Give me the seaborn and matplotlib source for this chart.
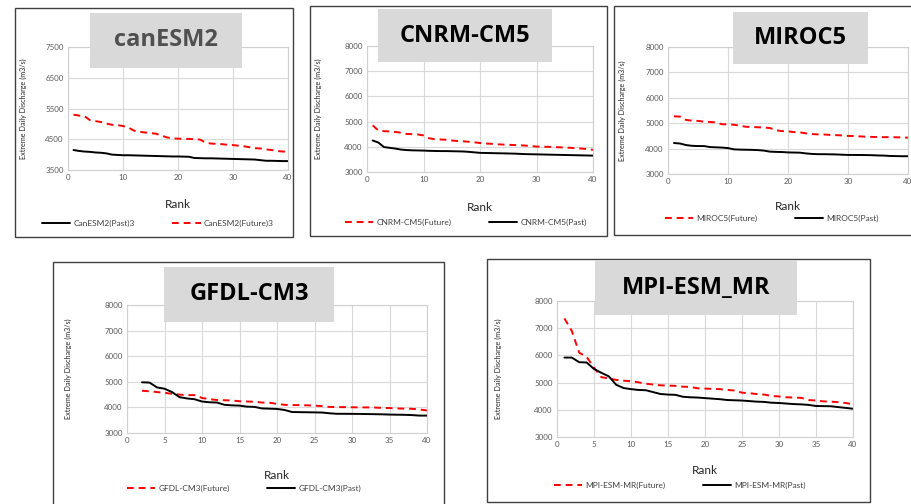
import numpy as np
import pandas as pd
import seaborn as sns
import matplotlib.pyplot as plt
from matplotlib.patches import Rectangle

# ---- data ----
rank = list(range(1, 41))
rank_gfdl = list(range(2, 41))

can_past = [4150, 4120, 4100, 4090, 4070, 4060, 4040, 4000, 3990, 3980,
            3980, 3975, 3970, 3965, 3960, 3955, 3950, 3945, 3940, 3940,
            3935, 3930, 3890, 3885, 3880, 3880, 3875, 3870, 3865, 3860,
            3855, 3850, 3845, 3840, 3820, 3800, 3800, 3795, 3790, 3790]
can_future = [5300, 5270, 5250, 5120, 5090, 5060, 5010, 4970, 4960, 4930,
              4880, 4780, 4740, 4720, 4700, 4680, 4620, 4560, 4530, 4520,
              4510, 4510, 4500, 4490, 4390, 4360, 4350, 4340, 4320, 4310,
              4290, 4270, 4240, 4210, 4200, 4170, 4150, 4120, 4100, 4100]

cnrm_future = [4850, 4650, 4620, 4610, 4590, 4560, 4510, 4500, 4490, 4450,
               4340, 4300, 4290, 4280, 4250, 4230, 4220, 4200, 4180, 4150,
               4130, 4120, 4100, 4090, 4080, 4070, 4060, 4050, 4030, 4010,
               4000, 4000, 3990, 3980, 3970, 3960, 3940, 3930, 3910, 3880]
cnrm_past = [4250, 4170, 3990, 3960, 3930, 3890, 3870, 3860, 3855, 3850,
             3840, 3835, 3830, 3830, 3825, 3820, 3815, 3800, 3780, 3760,
             3755, 3750, 3745, 3740, 3735, 3730, 3720, 3710, 3705, 3700,
             3695, 3690, 3685, 3680, 3675, 3670, 3665, 3660, 3655, 3650]

miroc_future = [5270, 5260, 5130, 5100, 5090, 5060, 5050, 5030, 4960, 4950,
                4940, 4900, 4860, 4850, 4840, 4830, 4810, 4720, 4690, 4680,
                4650, 4640, 4600, 4570, 4560, 4555, 4540, 4530, 4520, 4500,
                4495, 4480, 4470, 4460, 4455, 4450, 4450, 4445, 4440, 4430]
miroc_past = [4220, 4200, 4140, 4110, 4100, 4100, 4060, 4050, 4040, 4020,
              3970, 3960, 3955, 3950, 3940, 3920, 3880, 3870, 3865, 3850,
              3845, 3840, 3810, 3790, 3780, 3780, 3775, 3770, 3760, 3750,
              3750, 3748, 3745, 3740, 3730, 3725, 3710, 3705, 3700, 3700]

gfdl_future = [4650, 4630, 4600, 4570, 4530, 4500, 4480, 4480, 4370, 4320,
               4290, 4280, 4270, 4240, 4230, 4220, 4190, 4180, 4140, 4100,
               4090, 4090, 4080, 4070, 4050, 4020, 4010, 4010, 4005, 4000,
               4000, 3995, 3980, 3975, 3960, 3950, 3945, 3920, 3880]
gfdl_past = [4980, 4970, 4780, 4730, 4600, 4400, 4350, 4320, 4230, 4200,
             4190, 4100, 4080, 4070, 4030, 4020, 3960, 3950, 3940, 3900,
             3820, 3815, 3810, 3805, 3800, 3770, 3750, 3750, 3748, 3745,
             3740, 3735, 3730, 3720, 3715, 3710, 3700, 3680, 3680]

mpi_future = [7360, 6900, 6100, 5950, 5550, 5200, 5150, 5100, 5070, 5050,
              5010, 4960, 4930, 4900, 4890, 4880, 4850, 4840, 4790, 4780,
              4770, 4760, 4730, 4710, 4630, 4610, 4580, 4560, 4510, 4490,
              4460, 4450, 4440, 4360, 4340, 4310, 4300, 4280, 4250, 4200]
mpi_past = [5920, 5920, 5750, 5740, 5500, 5360, 5230, 4920, 4800, 4760,
            4730, 4720, 4650, 4580, 4560, 4550, 4480, 4460, 4450, 4430,
            4410, 4390, 4360, 4350, 4340, 4320, 4300, 4290, 4260, 4250,
            4230, 4210, 4200, 4180, 4140, 4135, 4130, 4100, 4070, 4040]

W, H = 911, 504

sns.set_theme(style="whitegrid")
plt.rcParams['font.family'] = ['Lato', 'DejaVu Sans']

fig = plt.figure(figsize=(W / 100, H / 100), dpi=100)
fig.patch.set_facecolor('white')


def fbox(x0, y0, x1, y1):
    # pixel box (top-left origin) -> figure fraction [l, b, w, h]
    return [x0 / W, 1 - y1 / H, (x1 - x0) / W, (y1 - y0) / H]


def panel(border, axbox, tbox, title, tcolor, series, ylim, ystep, xstep,
          xlab_dy, ylab_x, leg_y, leg_x=None):
    l, b, w, h = fbox(*border)
    fig.patches.append(Rectangle((l, b), w, h, transform=fig.transFigure,
                                 fill=False, edgecolor='#404040', lw=1.0, zorder=0))
    ax = fig.add_axes(fbox(*axbox))
    handles = []
    for lab, xs, ys, col, dashed in series:
        df = pd.DataFrame({'Rank': xs, 'Q': ys})
        sns.lineplot(data=df, x='Rank', y='Q', ax=ax, color=col, lw=1.4,
                     label=lab, legend=False)
        ln = ax.lines[-1]
        if dashed:
            ln.set_dashes([3.5, 2.5])
        handles.append(ln)
    ax.set_xlim(0, 40)
    ax.set_ylim(*ylim)
    ax.set_xticks(np.arange(0, 41, xstep))
    ax.set_yticks(np.arange(ylim[0], ylim[1] + 1, ystep))
    ax.grid(True, color='#d9d9d9', lw=0.8)
    for s in ax.spines.values():
        s.set_color('#d0d0d0')
        s.set_linewidth(0.8)
    ax.tick_params(labelsize=5.7, colors='#595959', length=0, pad=3)
    axh = axbox[3] - axbox[1]
    ax.set_xlabel('Rank', fontsize=8.5, color='#262626')
    ax.xaxis.set_label_coords(0.5, -xlab_dy / axh)
    ax.set_ylabel('Extreme Daily Discharge (m3/s)', fontsize=5.2, color='#262626')
    axw = axbox[2] - axbox[0]
    ax.yaxis.set_label_coords(-(axbox[0] - ylab_x) / axw, 0.5)
    if leg_x is None:
        leg_x = (border[0] + border[2]) / 2
    fig.legend(handles=handles, labels=[s[0] for s in series], ncol=2,
               loc='center', bbox_to_anchor=(leg_x / W, 1 - leg_y / H),
               frameon=False, fontsize=6, handlelength=3.4, handletextpad=0.4,
               columnspacing=4.5, labelcolor='#404040')
    tl, tb, tw, th = fbox(*tbox)
    fig.patches.append(Rectangle((tl, tb), tw, th, transform=fig.transFigure,
                                 facecolor='#d9d9d9', edgecolor='none', zorder=5))
    fig.text(tl + tw / 2, tb + th / 2, title, ha='center', va='center',
             fontsize=17, fontweight='bold', color=tcolor, zorder=6,
             family=['Open Sans', 'DejaVu Sans'])
    return ax


panel((15, 8, 293, 237), (68, 47, 288, 170), (90, 13, 242, 68),
      'canESM2', '#505050',
      [('CanESM2(Past)3', rank, can_past, 'black', False),
       ('CanESM2(Future)3', rank, can_future, 'red', True)],
      (3500, 7500), 1000, 10, 29, 27, 223, leg_x=158)

panel((310, 6, 607, 236), (367, 46, 593, 172), (378, 9, 552, 62),
      'CNRM-CM5', 'black',
      [('CNRM-CM5(Future)', rank, cnrm_future, 'red', True),
       ('CNRM-CM5(Past)', rank, cnrm_past, 'black', False)],
      (3000, 8000), 1000, 10, 30, 322, 222, leg_x=466)

panel((614, 6, 915, 235), (668, 47, 908, 174), (733, 12, 868, 64),
      'MIROC5', 'black',
      [('MIROC5(Future)', rank, miroc_future, 'red', True),
       ('MIROC5(Past)', rank, miroc_past, 'black', False)],
      (3000, 8000), 1000, 10, 27, 626, 218, leg_x=772)

panel((53, 262, 444, 510), (127, 305, 427, 433), (164, 267, 334, 322),
      'GFDL-CM3', 'black',
      [('GFDL-CM3(Future)', rank_gfdl, gfdl_future, 'red', True),
       ('GFDL-CM3(Past)', rank_gfdl, gfdl_past, 'black', False)],
      (3000, 8000), 1000, 5, 37, 72, 488, leg_x=244)

panel((487, 259, 870, 502), (557, 301, 853, 437), (595, 261, 797, 315),
      'MPI-ESM_MR', 'black',
      [('MPI-ESM-MR(Future)', rank, mpi_future, 'red', True),
       ('MPI-ESM-MR(Past)', rank, mpi_past, 'black', False)],
      (3000, 8000), 1000, 5, 28, 502, 485, leg_x=680)

fig.savefig('out.png', dpi=100, facecolor='white')
